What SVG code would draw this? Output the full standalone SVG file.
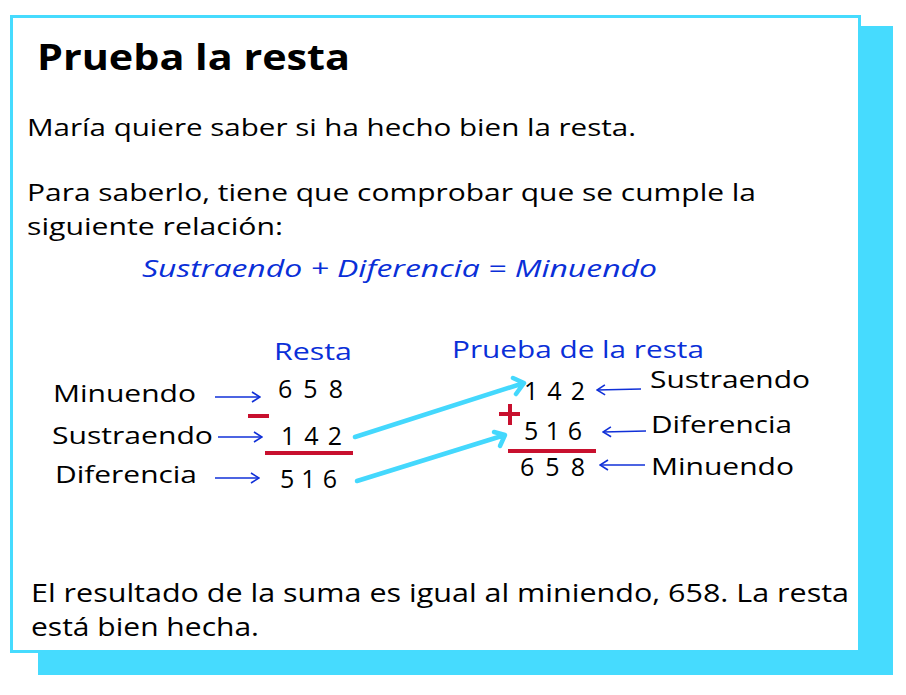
<svg xmlns="http://www.w3.org/2000/svg" width="906" height="695" viewBox="0 0 906 695">
<style>
.t{font-family:"Open Sans","Noto Sans","Liberation Sans",sans-serif;fill:#000}
.b{fill:#0a2fd8}
.n{font-family:"Open Sans","Noto Sans","Liberation Sans",sans-serif;font-size:25px;fill:#000}
.ba{stroke:#1030d8;stroke-width:1.6;fill:none}
.ca{stroke:#44d8fd;stroke-width:4.5;fill:none;stroke-linecap:round;stroke-linejoin:round}
.red{stroke:#c8102e;stroke-width:4;fill:none}
</style>
<defs>
<marker id="bh" viewBox="0 0 10 12" refX="9" refY="6" markerWidth="10" markerHeight="12" markerUnits="userSpaceOnUse" orient="auto">
<path d="M1,1 L9,6 L1,11" fill="none" stroke="#1030d8" stroke-width="1.6"/>
</marker>
</defs>
<rect x="38" y="26" width="855" height="649" fill="#46dbfe"/>
<rect x="11.5" y="16.5" width="848" height="635" fill="#fff" stroke="#46dbfe" stroke-width="3"/>
<g id="title"><text class="t" x="37" y="70" font-size="35" font-weight="bold" textLength="313" lengthAdjust="spacingAndGlyphs">Prueba la resta</text></g>
<g id="intro">
<text class="t" x="27" y="136" font-size="24" textLength="609" lengthAdjust="spacingAndGlyphs">María quiere saber si ha hecho bien la resta.</text>
<text class="t" x="27" y="201" font-size="24" textLength="729" lengthAdjust="spacingAndGlyphs">Para saberlo, tiene que comprobar que se cumple la</text>
<text class="t" x="27" y="235" font-size="24" textLength="256" lengthAdjust="spacingAndGlyphs">siguiente relación:</text>
</g>
<g id="formula"><text class="t b" x="142" y="277" font-size="24" font-style="italic" textLength="515" lengthAdjust="spacingAndGlyphs">Sustraendo + Diferencia = Minuendo</text></g>
<g id="resta">
<text class="t b" x="274" y="360" font-size="24" textLength="78" lengthAdjust="spacingAndGlyphs">Resta</text>
<text class="t" x="53" y="402" font-size="24" textLength="143" lengthAdjust="spacingAndGlyphs">Minuendo</text>
<text class="t" x="52" y="444" font-size="24" textLength="161" lengthAdjust="spacingAndGlyphs">Sustraendo</text>
<text class="t" x="55" y="483" font-size="24" textLength="142" lengthAdjust="spacingAndGlyphs">Diferencia</text>
<text class="n" x="278" y="398" textLength="65" lengthAdjust="spacing">658</text>
<text class="n" x="281" y="445" textLength="61" lengthAdjust="spacing">142</text>
<text class="n" x="280" y="488" textLength="57" lengthAdjust="spacing">516</text>
<line class="red" x1="248" y1="416" x2="269" y2="416"/>
<line class="red" x1="265" y1="453" x2="353" y2="453"/>
</g>
<g id="prueba">
<text class="t b" x="452" y="358" font-size="24" textLength="252" lengthAdjust="spacingAndGlyphs">Prueba de la resta</text>
<text class="n" x="524" y="400" textLength="61" lengthAdjust="spacing">142</text>
<text class="n" x="524" y="440" textLength="58" lengthAdjust="spacing">516</text>
<text class="n" x="520" y="476" textLength="65" lengthAdjust="spacing">658</text>
<path class="red" d="M499,414 H520 M510,404 V425"/>
<line class="red" x1="508" y1="451" x2="596" y2="451"/>
<text class="t" x="650" y="388" font-size="24" textLength="160" lengthAdjust="spacingAndGlyphs">Sustraendo</text>
<text class="t" x="651" y="433" font-size="24" textLength="141" lengthAdjust="spacingAndGlyphs">Diferencia</text>
<text class="t" x="651" y="475" font-size="24" textLength="143" lengthAdjust="spacingAndGlyphs">Minuendo</text>
</g>
<g id="connectors">
<line class="ba" x1="215" y1="397" x2="260" y2="397" marker-end="url(#bh)"/>
<line class="ba" x1="218" y1="437" x2="262" y2="437" marker-end="url(#bh)"/>
<line class="ba" x1="215" y1="478" x2="259" y2="478" marker-end="url(#bh)"/>
<line class="ba" x1="641" y1="389" x2="597" y2="390" marker-end="url(#bh)"/>
<line class="ba" x1="646" y1="431" x2="603" y2="432" marker-end="url(#bh)"/>
<line class="ba" x1="645" y1="465" x2="600" y2="465" marker-end="url(#bh)"/>
<path class="ca" d="M355,437 L524,383 M513,378 L524,383 L516,394"/>
<path class="ca" d="M357,481 L505,435 M494,432 L505,435 L500,446"/>
</g>
<g id="conclusion">
<text class="t" x="31" y="602" font-size="26" textLength="818" lengthAdjust="spacingAndGlyphs">El resultado de la suma es igual al miniendo, 658. La resta</text>
<text class="t" x="31" y="636" font-size="26" textLength="228" lengthAdjust="spacingAndGlyphs">está bien hecha.</text>
</g>
</svg>
